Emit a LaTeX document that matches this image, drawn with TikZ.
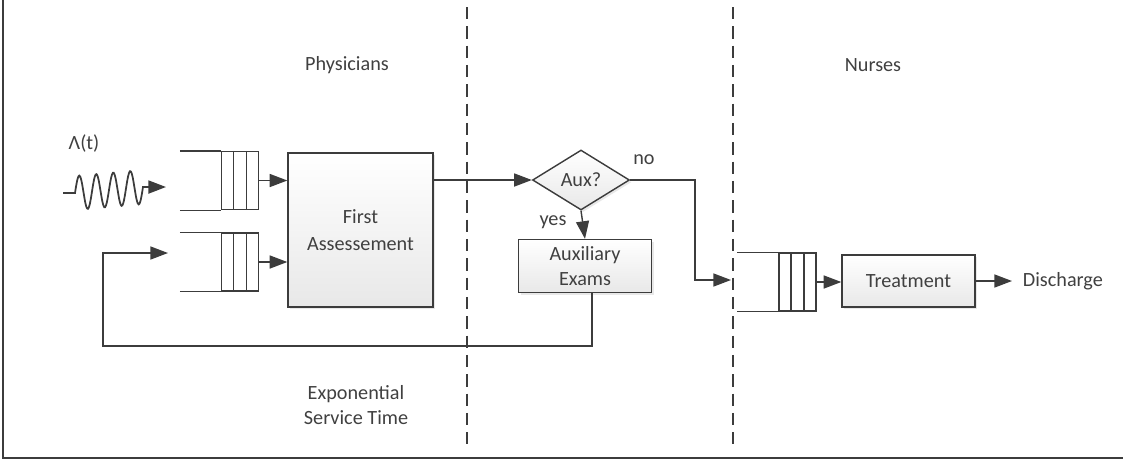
\documentclass[tikz,border=0pt]{standalone}
\usepackage{fontspec}
\setmainfont{Carlito}
\usetikzlibrary{arrows.meta,shapes.geometric,shadows,calc}
\definecolor{linegray}{HTML}{3C3C3C}
\definecolor{textgray}{HTML}{404040}
\tikzset{
    line/.style={draw=linegray, line width=0.8pt},
    flow/.style={line, -{Triangle[length=10pt,width=7.4pt]}},
    lane/.style={draw=linegray, line width=0.7pt, dash pattern=on 7pt off 4pt},
    procbox/.style={rectangle, line, top color=white, bottom color=black!9,
        drop shadow={opacity=0.18, shadow xshift=1.2pt, shadow yshift=-1.2pt},
        align=center, inner sep=0pt},
    queuebox/.style={rectangle, line, minimum width=0.74cm, minimum height=1.16cm, inner sep=0pt},
    every node/.style={text=textgray, font=\fontsize{11.5}{14}\selectfont}
}
\begin{document}
\begin{tikzpicture}[x=0.02cm, y=-0.02cm]
    \useasboundingbox (0,0) rectangle (1123,461);
    % frame and lanes
    \draw[linegray, line width=1.1pt] (3,0) -- (3,458) -- (1123,458);
    \draw[lane] (467,7) -- (467,445);
    \draw[lane] (733,7) -- (733,445);
    \node (physicians) at (347,65) {Physicians};
    \node (nurses) at (873,65) {Nurses};
    \node (service) at (356,405) [align=center] {Exponential\\Service Time};
    % arrivals
    \node (lambda) at (84,144) {Λ(t)};
    \coordinate (arr) at (166,187);
    \coordinate (back) at (168,253);
    \coordinate (fb) at (103,346);
    % queues
    \node[queuebox] (qa) at (240,180.5) {};
    \node[queuebox] (qb) at (240,262) {};
    \node[queuebox] (qn) at (797.5,282) {};
    \foreach \q in {qa,qb,qn} {
        \draw[line] ([shift={(-41,0)}]\q.north west) -- (\q.north west);
        \draw[line] ([shift={(-41,0)}]\q.south west) -- (\q.south west);
        \foreach \f in {1/3,2/3}
            \draw[line] ($(\q.north west)!\f!(\q.north east)$) -- ($(\q.south west)!\f!(\q.south east)$);
    }
    % processes
    \node[procbox, minimum width=2.9cm, minimum height=3.08cm, font=\fontsize{11.5}{15}\selectfont] (assess) at (360.5,230) {First\\Assessement};
    \node[diamond, line, top color=white, bottom color=black!9, inner sep=0pt,
        minimum width=1.94cm, minimum height=1.2cm,
        drop shadow={opacity=0.18, shadow xshift=1.2pt, shadow yshift=-1.2pt}] (aux) at (581,180) {Aux?};
    \node[procbox, minimum width=2.66cm, minimum height=1.06cm] (exams) at (585,266) {Auxiliary\\Exams};
    \node[procbox, minimum width=2.66cm, minimum height=1.04cm] (treat) at (908.5,281) {Treatment};
    \node[anchor=west, inner xsep=6pt, inner ysep=1pt] (discharge) at (1012,281) {Discharge};
    \node (no) at (644,160) {no};
    \node (yes) at (553,222) {yes};
    \coordinate (bend) at (695,180);
    \coordinate (nin) at (731,280);
    % connectors
    \draw[flow, line width=1pt] (63,193) -- plot[smooth, domain=0:4, samples=80]
        ({75+17*\x},{193-1.5*\x-17*sin(360*\x)}) -- (arr);
    \draw[flow] (qa.east) -- (qa.east -| assess.west);
    \draw[flow] (qb.east) -- (qb.east -| assess.west);
    \draw[flow] (assess.east |- aux.west) -- (aux.west);
    \draw[flow] (aux.south) -- (exams.north);
    \draw[flow] (aux.east) -- (bend) |- (nin);
    \draw[flow] ([shift={(7,0)}]exams.south) |- (fb) |- (back);
    \draw[flow] (qn.east) -- (qn.east -| treat.west);
    \draw[flow] (treat.east) -- (discharge.west);
\end{tikzpicture}
\end{document}
